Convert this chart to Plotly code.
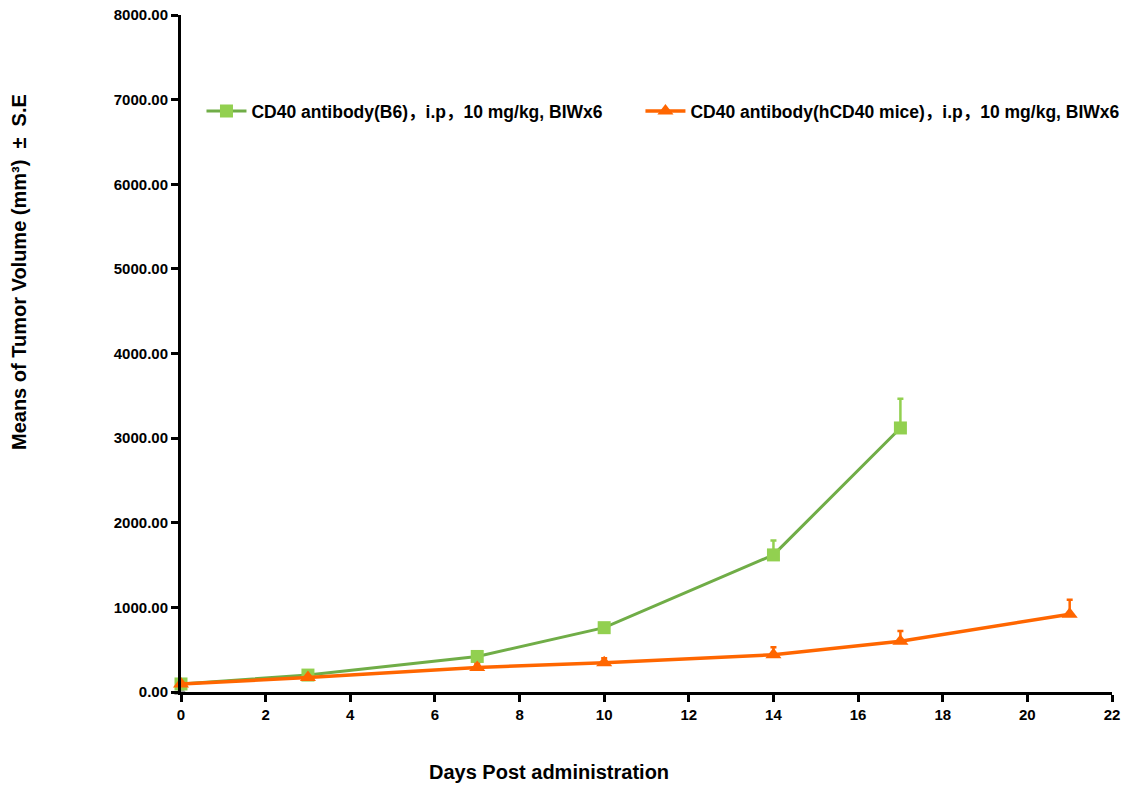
import plotly.graph_objects as go

days_b6 = [0, 3, 7, 10, 14, 17]
vol_b6 = [95, 200, 420, 760, 1620, 3120]
se_b6 = [15, 25, 30, 40, 170, 345]

days_h = [0, 3, 7, 10, 14, 17, 21]
vol_h = [95, 170, 290, 345, 440, 600, 920]
se_h = [10, 20, 40, 55, 90, 120, 170]

name_b6 = "CD40 antibody(B6)，i.p，10 mg/kg, BIWx6"
name_h = "CD40 antibody(hCD40 mice)，i.p，10 mg/kg, BIWx6"

x_ticks = list(range(0, 23, 2))
y_ticks = list(range(0, 8001, 1000))

x_title = "Days Post administration"
y_title = "Means of Tumor Volume (mm³)  ±  S.E"

FONT = "Liberation Sans, Arial, Noto Sans CJK SC, sans-serif"

fig = go.Figure()

# stray grey marker at origin
fig.add_trace(go.Scatter(x=[0], y=[0], mode="markers", showlegend=False,
                         marker=dict(symbol="triangle-up", size=12, color="#A6A6A6"),
                         cliponaxis=False, hoverinfo="skip"))

fig.add_trace(go.Scatter(
    x=days_b6, y=vol_b6, name=name_b6, mode="lines+markers", legend="legend",
    line=dict(color="#70AD47", width=3),
    marker=dict(symbol="square", size=13, color="#92D050"),
    error_y=dict(type="data", array=se_b6, arrayminus=[0]*len(se_b6), symmetric=False,
                 color="#92D050", thickness=2.5, width=3),
    cliponaxis=False))

fig.add_trace(go.Scatter(
    x=days_h, y=vol_h, name=name_h, mode="lines+markers", legend="legend2",
    line=dict(color="#FF6600", width=3.5),
    marker=dict(symbol="triangle-up", size=14, color="#FF6600"),
    error_y=dict(type="data", array=se_h, arrayminus=[0]*len(se_h), symmetric=False,
                 color="#FF6600", thickness=2.5, width=3),
    cliponaxis=False))

leg_font = dict(family=FONT, size=17.5, color="black", weight="bold")
title_font = dict(family=FONT, size=20, color="black", weight="bold")
fig.update_layout(
    width=1124, height=787,
    paper_bgcolor="white", plot_bgcolor="white",
    margin=dict(l=181, r=12, t=15, b=95, autoexpand=False),
    font=dict(family=FONT, color="black", size=15),
    showlegend=True,
    legend=dict(orientation="h", x=0.022, y=0.858, xanchor="left", yanchor="middle",
                font=leg_font, bgcolor="rgba(0,0,0,0)", itemwidth=40),
    legend2=dict(orientation="h", x=0.4935, y=0.858, xanchor="left", yanchor="middle",
                 font=leg_font, bgcolor="rgba(0,0,0,0)", itemwidth=40),
    xaxis=dict(range=[0, 22], tickvals=x_ticks, ticktext=[str(v) for v in x_ticks],
               showgrid=False, zeroline=False, showline=True, linecolor="black", linewidth=3,
               ticks="outside", ticklen=7, tickwidth=2.5, tickcolor="black", automargin=False,
               tickfont=dict(family=FONT, size=15, color="black", weight="bold")),
    yaxis=dict(range=[0, 8000], tickvals=y_ticks, ticktext=[f"{v:.2f}" for v in y_ticks],
               showgrid=False, zeroline=False, showline=True, linecolor="black", linewidth=3,
               ticks="outside", ticklen=7, tickwidth=2.5, tickcolor="black", automargin=False,
               tickfont=dict(family=FONT, size=15, color="black", weight="bold")),
    annotations=[
        dict(text=x_title, xref="paper", yref="paper", x=(549 - 181) / 931, y=-(772 - 692) / 677,
             xanchor="center", yanchor="middle", showarrow=False, font=title_font),
        dict(text=y_title, xref="paper", yref="paper", x=-(181 - 19) / 931, y=(692 - 272) / 677,
             xanchor="center", yanchor="middle", showarrow=False, textangle=-90, font=title_font),
    ],
)

fig.write_html("out.html")
